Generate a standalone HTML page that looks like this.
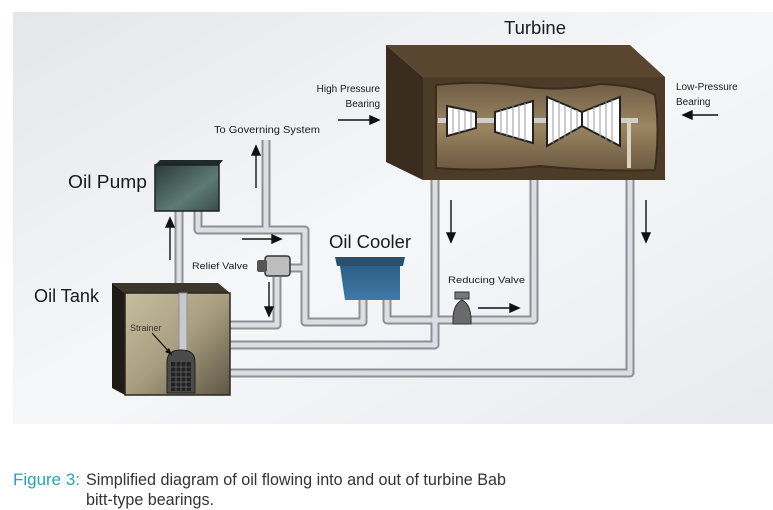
<!DOCTYPE html>
<html><head><meta charset="utf-8"><style>
html,body{margin:0;padding:0;background:#fff;width:773px;height:510px;overflow:hidden}
svg{display:block}
text{font-family:"Liberation Sans Narrow","Liberation Sans",sans-serif}
</style></head><body>
<svg width="773" height="510" viewBox="0 0 773 510" xmlns="http://www.w3.org/2000/svg">
<defs>
<linearGradient id="bg" x1="0" y1="0" x2="1" y2="1">
<stop offset="0" stop-color="#e4e6ea"/><stop offset="0.5" stop-color="#f6f7f9"/><stop offset="1" stop-color="#e8eaee"/></linearGradient>
<linearGradient id="pump" x1="0" y1="0" x2="1" y2="1"><stop offset="0" stop-color="#2c3a36"/><stop offset="0.6" stop-color="#5d7a74"/><stop offset="1" stop-color="#3a4c48"/></linearGradient>
<linearGradient id="tank" x1="0" y1="0" x2="1" y2="1"><stop offset="0" stop-color="#c7bea0"/><stop offset="0.5" stop-color="#a99e80"/><stop offset="1" stop-color="#5d5645"/></linearGradient>
<linearGradient id="cool" x1="0" y1="0" x2="0" y2="1"><stop offset="0" stop-color="#2e5e86"/><stop offset="1" stop-color="#3f7aa6"/></linearGradient>
<linearGradient id="tin" x1="0" y1="0" x2="0" y2="1"><stop offset="0" stop-color="#6f5c44"/><stop offset="0.5" stop-color="#9b8562"/><stop offset="1" stop-color="#6b5840"/></linearGradient>
</defs>
<rect x="13" y="12" width="760" height="412" fill="url(#bg)"/>

<!-- pipes -->
<g fill="none" stroke-linejoin="round" stroke-linecap="butt">
<g stroke="#8e9095" stroke-width="9">
<path d="M179 211 V370"/>
<path d="M198 211 V230 H305 V322 H363 V300"/>
<path d="M266 140 V230"/>
<path d="M290 268 H305"/>
<path d="M277 277 V325 H230"/>
<path d="M387 300 V320 H534 V180"/>
<path d="M435 180 V345 H230"/>
<path d="M630 180 V373 H230"/>
</g>
<g stroke="#dcdee2" stroke-width="5">
<path d="M179 211 V370"/>
<path d="M198 211 V230 H305 V322 H363 V300"/>
<path d="M266 140 V230"/>
<path d="M290 268 H305"/>
<path d="M277 277 V325 H230"/>
<path d="M387 300 V320 H534 V180"/>
<path d="M435 180 V345 H230"/>
<path d="M630 180 V373 H230"/>
</g>
</g>

<!-- turbine -->
<polygon points="386,45 630,45 665,77 423,77" fill="#5a4630"/>
<polygon points="386,45 423,77 423,180 386,162" fill="#3a2c1e"/>
<rect x="423" y="77" width="242" height="103" fill="#4c3b27"/>
<path d="M436 85 Q480 80 520 86 T600 84 Q640 86 655 95 Q660 130 655 170 Q600 172 540 166 Q490 172 436 168 Z" fill="url(#tin)" stroke="#3a2c1e" stroke-width="2"/>
<rect x="438" y="118" width="200" height="5" fill="#cfcfcf"/>
<polygon points="447,106 476,112 476,128 447,136" fill="#fff" stroke="#222" stroke-width="2"/>
<polygon points="495,112 533,101 533,143 495,132" fill="#fff" stroke="#222" stroke-width="2"/>
<polygon points="547,97 582,112 582,126 547,146" fill="#fff" stroke="#222" stroke-width="2"/>
<polygon points="582,112 620,97 620,146 582,126" fill="#fff" stroke="#222" stroke-width="2"/>
<g stroke="#999" stroke-width="1">
<path d="M453 108V134M459 109V133M465 110V131M471 111V129M501 110V134M507 108V136M513 106V138M519 105V139M525 103V141M553 100V143M559 102V140M565 105V138M571 107V135M577 110V129M588 110V128M594 107V132M600 105V137M606 102V140M612 100V143"/>
</g>
<rect x="627" y="118" width="4" height="50" fill="#d8d2c0"/>

<!-- pump -->
<polygon points="155,165 160,160 223,160 219,165" fill="#1f2a27"/>
<rect x="155" y="165" width="64" height="46" fill="url(#pump)" stroke="#1a2220" stroke-width="1.5"/>
<!-- tank -->
<polygon points="112,283 125,293 230,293 218,283" fill="#3d372b"/>
<polygon points="112,283 125,293 125,395 112,388" fill="#1f1c16"/>
<rect x="125" y="293" width="105" height="102" fill="url(#tank)" stroke="#2a261e" stroke-width="1.5"/>
<rect x="179" y="293" width="8" height="58" fill="#c8c9cc" stroke="#8e9095"/>
<path d="M167 393 V362 Q167 350 181 350 Q195 350 195 362 V393 Z" fill="#4a4a4a" stroke="#222"/>
<rect x="171" y="362" width="20" height="29" fill="#222"/>
<g stroke="#666" stroke-width="0.8"><path d="M171 367H191M171 372H191M171 377H191M171 382H191M171 387H191M176 362V391M181 362V391M186 362V391"/></g>
<path d="M152 333 L172 355" stroke="#111" stroke-width="1.3"/><polygon points="172,355 165,352 169,348" fill="#111"/>
<!-- cooler -->
<polygon points="335,257 405,257 403,266 337,266" fill="#2a5070"/>
<path d="M340 266 H400 V300 H345 Z" fill="url(#cool)"/>
<!-- relief valve -->
<rect x="265" y="256" width="25" height="20" rx="3" fill="#bdbdbd" stroke="#333" stroke-width="1.5"/>
<rect x="257" y="260" width="10" height="12" rx="2" fill="#555"/>
<!-- reducing valve -->
<rect x="455" y="292" width="14" height="7" fill="#777" stroke="#333"/>
<path d="M453 324 Q452 305 462 300 Q472 305 471 324 Z" fill="#6a6a6a" stroke="#333"/>

<!-- arrows -->
<g stroke="#111" stroke-width="1.4" fill="#111">
<path d="M256 188V152"/><polygon points="256,146 252,155 260,155"/>
<path d="M170 260V224"/><polygon points="170,218 166,227 174,227"/>
<path d="M242 239H274"/><polygon points="281,239 272,235 272,243"/>
<path d="M269 282V310"/><polygon points="269,316 265,307 273,307"/>
<path d="M451 200V236"/><polygon points="451,242 447,233 455,233"/>
<path d="M646 200V236"/><polygon points="646,242 642,233 650,233"/>
<path d="M478 308H512"/><polygon points="519,308 510,304 510,312"/>
<path d="M338 120H372"/><polygon points="379,120 370,116 370,124"/>
<path d="M718 115H690"/><polygon points="683,115 692,111 692,119"/>
</g>

<!-- labels -->
<g fill="#1a1a1a">
<text x="504" y="34" font-size="18" textLength="62" lengthAdjust="spacingAndGlyphs">Turbine</text>
<text x="380" y="92" font-size="10" text-anchor="end">High Pressure</text>
<text x="380" y="107" font-size="10" text-anchor="end">Bearing</text>
<text x="676" y="90" font-size="10">Low-Pressure</text>
<text x="676" y="105" font-size="10">Bearing</text>
<text x="214" y="133" font-size="10" textLength="106" lengthAdjust="spacingAndGlyphs">To Governing System</text>
<text x="68" y="188" font-size="18" textLength="79" lengthAdjust="spacingAndGlyphs">Oil Pump</text>
<text x="329" y="248" font-size="18" textLength="82" lengthAdjust="spacingAndGlyphs">Oil Cooler</text>
<text x="192" y="269" font-size="9" textLength="56" lengthAdjust="spacingAndGlyphs">Relief Valve</text>
<text x="34" y="302" font-size="18" textLength="65" lengthAdjust="spacingAndGlyphs">Oil Tank</text>
<text x="130" y="331" font-size="9" fill="#3a342a">Strainer</text>
<text x="448" y="283" font-size="9" textLength="77" lengthAdjust="spacingAndGlyphs">Reducing Valve</text>
</g>
<text x="13" y="485" font-size="17" fill="#2aa3b8" textLength="67" lengthAdjust="spacingAndGlyphs">Figure 3:</text>
<text x="86" y="485" font-size="17" fill="#333" textLength="420" lengthAdjust="spacingAndGlyphs">Simplified diagram of oil flowing into and out of turbine Bab</text>
<text x="86" y="505" font-size="17" fill="#333" textLength="128" lengthAdjust="spacingAndGlyphs">bitt-type bearings.</text>
</svg>
</body></html>
